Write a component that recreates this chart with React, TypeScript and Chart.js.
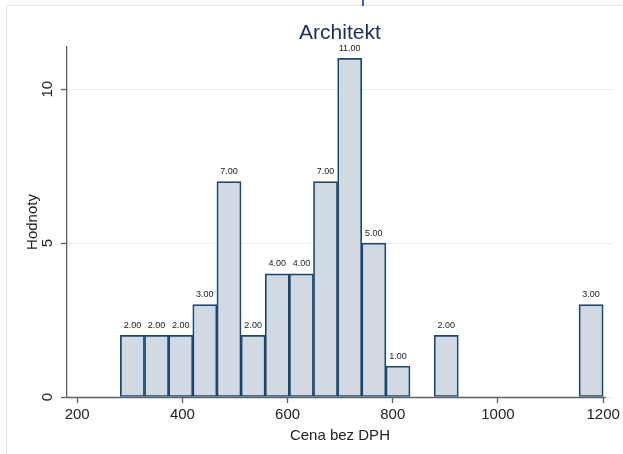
import React, { useEffect, useRef } from "react";
import { Chart, registerables } from "chart.js";

Chart.register(...registerables);

// ---- data ----
const binCenters = [
  305.0, 350.9, 396.8, 442.7, 488.6, 534.5, 580.4, 626.3, 672.2, 718.1,
  764.0, 809.9, 855.8, 901.7, 947.6, 993.5, 1039.4, 1085.3, 1131.2, 1177.1,
];
const counts = [2, 2, 2, 3, 7, 2, 4, 4, 7, 11, 5, 1, 0, 2, 0, 0, 0, 0, 0, 3];
const xTicks = [200, 400, 600, 800, 1000, 1200];
const yTicks = [0, 5, 10];
const chartTitle = "Architekt";
const xTitle = "Cena bez DPH";
const yTitle = "Hodnoty";

const FONT = "'Liberation Sans', Arial, Helvetica, sans-serif";
const AXIS = "#5f5f5f";
const GRID = "#e7eff2";
const BAR_FILL = "#d1dae3";
const BAR_EDGE = "#1a466e";
const TITLE_COLOR = "#1c2d59";

export default function App() {
  const ref = useRef<HTMLCanvasElement>(null);

  useEffect(() => {
    if (!ref.current) return;

    const overlay = {
      id: "stataOverlay",
      afterDraw(chart: any) {
        const { ctx, chartArea } = chart;
        const xs = chart.scales.x;
        const ys = chart.scales.y;
        ctx.save();

        // x axis line
        const y0 = Math.round(ys.getPixelForValue(0)) + 0.5;
        ctx.strokeStyle = AXIS;
        ctx.lineWidth = 1.3;
        ctx.beginPath();
        ctx.moveTo(chartArea.left, y0);
        ctx.lineTo(xs.getPixelForValue(xTicks[xTicks.length - 1]) + 2.5, y0);
        ctx.stroke();

        // bar value labels
        ctx.fillStyle = "#222";
        ctx.font = `9px ${FONT}`;
        ctx.textAlign = "center";
        ctx.textBaseline = "middle";
        const meta = chart.getDatasetMeta(0);
        meta.data.forEach((el: any, i: number) => {
          const v = counts[i];
          if (!v) return;
          ctx.fillText(v.toFixed(2), el.x, el.y - 10);
        });

        // y tick labels (rotated)
        ctx.fillStyle = "#222";
        ctx.font = `15px ${FONT}`;
        yTicks.forEach((t) => {
          const py = ys.getPixelForValue(t);
          ctx.save();
          ctx.translate(chartArea.left - 19, py);
          ctx.rotate(-Math.PI / 2);
          ctx.textAlign = "center";
          ctx.textBaseline = "middle";
          ctx.fillText(String(t), 0, 0);
          ctx.restore();
        });

        // y title
        ctx.save();
        ctx.translate(33, (chartArea.top + chartArea.bottom) / 2);
        ctx.rotate(-Math.PI / 2);
        ctx.textAlign = "center";
        ctx.textBaseline = "middle";
        ctx.fillText(yTitle, 0, 0);
        ctx.restore();

        // x title
        const cx = (chartArea.left + chartArea.right) / 2;
        ctx.textAlign = "center";
        ctx.textBaseline = "middle";
        ctx.fillText(xTitle, cx, 436);

        // chart title
        ctx.fillStyle = TITLE_COLOR;
        ctx.font = `21px ${FONT}`;
        ctx.fillText(chartTitle, cx, 33);

        ctx.restore();
      },
    };

    const chart = new Chart(ref.current, {
      type: "bar",
      data: {
        datasets: [
          {
            data: binCenters.map((x, i) => ({ x, y: counts[i] === 0 ? null : counts[i] })),
            backgroundColor: BAR_FILL,
            borderColor: BAR_EDGE,
            borderWidth: 1.7,
            borderSkipped: false,
            barPercentage: 1,
            categoryPercentage: 1,
          } as any,
        ],
      },
      options: {
        animation: false,
        responsive: true,
        maintainAspectRatio: false,
        layout: { padding: { top: 47, right: 10, left: 0, bottom: 0 } },
        plugins: {
          legend: { display: false },
          title: { display: false },
          tooltip: { enabled: false },
        },
        scales: {
          x: {
            type: "linear",
            offset: false,
            min: 180.6,
            max: 1218.5,
            afterBuildTicks: (scale: any) => {
              scale.ticks = xTicks.map((v) => ({ value: v }));
            },
            afterFit: (scale: any) => {
              scale.height = 57;
            },
            ticks: {
              font: { size: 15, family: FONT },
              color: "#222",
              padding: 3,
              maxRotation: 0,
              autoSkip: false,
              callback: (v: any) => String(v),
            },
            grid: {
              display: true,
              offset: false,
              drawOnChartArea: false,
              drawTicks: true,
              tickLength: 6,
              tickColor: AXIS,
              tickWidth: 1.3,
              color: AXIS,
            },
            border: { display: false },
          },
          y: {
            type: "linear",
            min: 0,
            max: 11.37,
            afterBuildTicks: (scale: any) => {
              scale.ticks = yTicks.map((v) => ({ value: v }));
            },
            afterFit: (scale: any) => {
              scale.width = 67;
            },
            ticks: { display: false },
            grid: {
              display: true,
              drawOnChartArea: true,
              drawTicks: true,
              tickLength: 6,
              color: GRID,
              tickColor: AXIS,
              tickWidth: 1.3,
              lineWidth: 1,
            },
            border: { display: true, color: AXIS, width: 1.3 },
          },
        },
      } as any,
      plugins: [overlay],
    });

    return () => chart.destroy();
  }, []);

  return (
    <div
      style={{
        position: "fixed",
        left: 0,
        top: 0,
        width: 623,
        height: 454,
        background: "#fff",
      }}
    >
      <canvas ref={ref} />
      <div
        style={{
          position: "absolute",
          left: 6,
          top: 5,
          right: 0,
          height: 1,
          background: "#dfe9f0",
        }}
      />
      <div
        style={{
          position: "absolute",
          left: 6,
          top: 5,
          bottom: 0,
          width: 1,
          background: "#dfe9f0",
        }}
      />
      <div
        style={{
          position: "absolute",
          left: 362,
          top: 0,
          height: 6,
          width: 2,
          background: "#3a62a8",
        }}
      />
    </div>
  );
}
